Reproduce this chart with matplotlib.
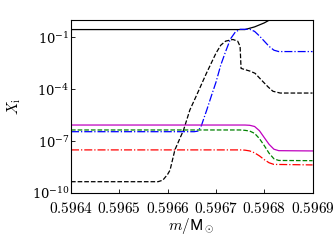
import matplotlib
matplotlib.use('Agg')
import matplotlib.pyplot as plt
from matplotlib.ticker import FormatStrFormatter

plt.rcParams['mathtext.fontset'] = 'cm'
plt.rcParams['font.family'] = 'serif'
plt.rcParams['font.size'] = 11

# mass coordinate (m / Msun) and abundances

# black solid
m_k1 = [0.5964, 0.59676, 0.59678, 0.5968, 0.59681, 0.5969]
x_k1 = [0.28, 0.28, 0.40, 0.68, 0.97, 0.97]

# black dashed
m_k2 = [0.5964, 0.59658, 0.59659, 0.5966, 0.596605, 0.596615, 0.596633,
        0.596646, 0.59666, 0.59668, 0.5967, 0.59671, 0.59672, 0.596735,
        0.596745, 0.59675, 0.596752, 0.596755, 0.596771, 0.596781,
        0.596795, 0.596808, 0.596818, 0.596833, 0.5969]
x_k2 = [4.5e-10, 4.5e-10, 5.5e-10, 1.2e-9, 2.1e-9, 3.1e-8, 4.4e-7,
        6.3e-6, 4.5e-5, 8e-4, 1.2e-2, 3.5e-2, 6e-2, 7.5e-2,
        6e-2, 3e-2, 1.6e-3, 1.5e-3, 1.1e-3, 8.3e-4,
        3.2e-4, 1.35e-4, 7.6e-5, 6.0e-5, 6.0e-5]

# blue dash-dot
m_b = [0.5964, 0.596655, 0.596663, 0.59667, 0.596676, 0.596681, 0.596691,
       0.5967, 0.59671, 0.59672, 0.59673, 0.59674, 0.59675, 0.59677,
       0.59678, 0.59679, 0.5968, 0.59681, 0.59682, 0.59683, 0.5969]
x_b = [3.5e-7, 3.5e-7, 3.8e-7, 8e-7, 2.5e-6, 6.3e-6, 4.5e-5,
       2.5e-4, 2.5e-3, 1.5e-2, 8e-2, 0.2, 0.29, 0.29,
       0.22, 0.12, 0.06, 0.03, 0.018, 0.015, 0.015]

# magenta solid
m_m = [0.5964, 0.59676, 0.59677, 0.59678, 0.59679, 0.5968, 0.59681,
       0.59682, 0.59683, 0.5969]
x_m = [8.5e-7, 8.5e-7, 8.2e-7, 7.0e-7, 4.0e-7, 1.6e-7, 6.5e-8,
       3.4e-8, 2.8e-8, 2.7e-8]

# green dashed
m_g = [0.5964, 0.59675, 0.59676, 0.59677, 0.59678, 0.59679, 0.5968,
       0.59681, 0.59682, 0.59683, 0.5969]
x_g = [4.4e-7, 4.4e-7, 4.2e-7, 3.8e-7, 2.8e-7, 1.4e-7, 5.5e-8,
       2.0e-8, 9.5e-9, 7.6e-9, 7.4e-9]

# red dash-dot
m_r = [0.5964, 0.59675, 0.59676, 0.59677, 0.59678, 0.59679, 0.5968,
       0.59681, 0.59682, 0.5969]
x_r = [3.1e-8, 3.1e-8, 3.0e-8, 2.7e-8, 2.1e-8, 1.4e-8, 8.5e-9,
       5.6e-9, 4.5e-9, 4.2e-9]

fig = plt.figure(figsize=(3.35, 2.44), dpi=100)
ax = fig.add_axes([0.212, 0.209, 0.721, 0.709])

lw = 0.9
ax.plot(m_k1, x_k1, 'k-', lw=lw)
ax.plot(m_k2, x_k2, 'k--', lw=lw)
ax.plot(m_b, x_b, 'b-.', lw=lw)
ax.plot(m_m, x_m, 'm-', lw=lw)
ax.plot(m_g, x_g, 'g--', lw=lw)
ax.plot(m_r, x_r, 'r-.', lw=lw)

ax.set_yscale('log')
ax.set_xlim(0.5964, 0.5969)
ax.set_ylim(1e-10, 1.0)
ax.set_yticks([1e-10, 1e-7, 1e-4, 1e-1])
ax.minorticks_off()
ax.set_xticks([0.5964, 0.5965, 0.5966, 0.5967, 0.5968, 0.5969])
ax.xaxis.set_major_formatter(FormatStrFormatter('$%.4f$'))
ax.tick_params(direction='in', length=3, width=0.6, pad=2)
ax.tick_params(axis='x', pad=5.5)
ax.tick_params(axis='y', labelsize=9.5, pad=1)

ax.set_xlabel(r'$m/\mathsf{M}_\odot$', labelpad=0)
ax.set_ylabel(r'$X_{\rm i}$', labelpad=6)

plt.savefig('out.png', dpi=100)
